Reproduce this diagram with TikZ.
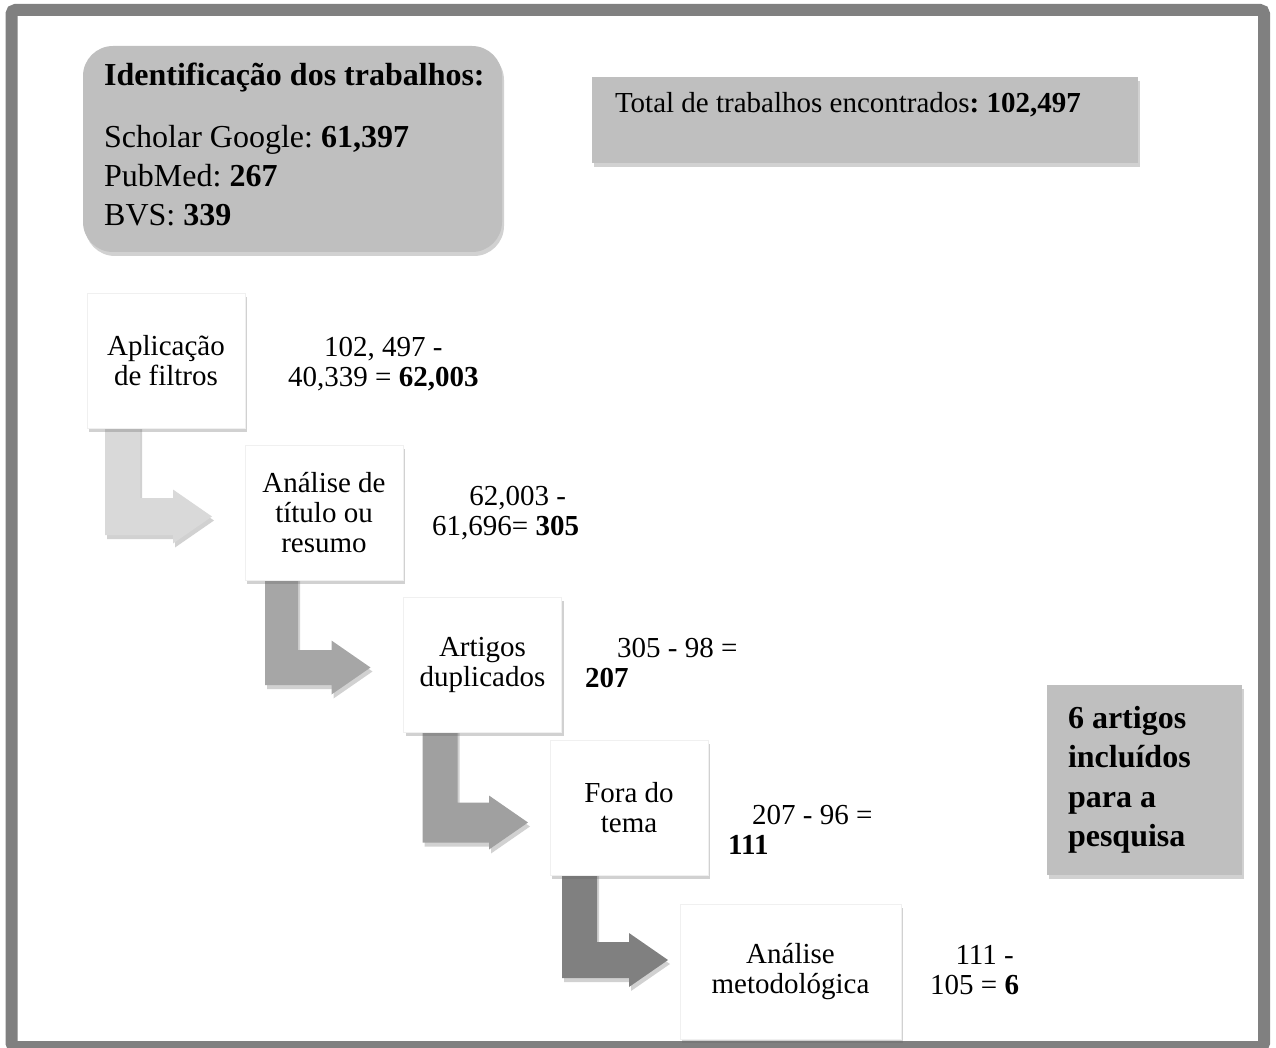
\documentclass[tikz,border=0pt]{standalone}
\usepackage{fontspec}
\setmainfont{Liberation Serif}
\frenchspacing
\usetikzlibrary{shadows,calc,backgrounds}
\definecolor{frame}{RGB}{128,128,128}
\definecolor{panel}{RGB}{191,191,191}
\definecolor{bendA}{RGB}{217,217,217}
\definecolor{bendB}{RGB}{166,166,166}
\definecolor{bendC}{RGB}{160,160,160}
\definecolor{bendD}{RGB}{128,128,128}
\newcommand{\comma}{,}
\tikzset{
  soft shadow/.style={drop shadow={shadow xshift=2pt,shadow yshift=-4pt,opacity=0.3,fill=black!60}},
  panel box/.style={fill=panel,inner sep=0pt,outer sep=0pt,soft shadow},
  stepbox/.style={draw=black!6,fill=white,inner sep=0pt,outer sep=0pt,
    minimum width=158pt,minimum height=135pt,align=center,
    font=\fontsize{29}{30}\selectfont,soft shadow},
  tally/.style={inner sep=0pt,anchor=west,font=\fontsize{29}{30}\selectfont},
  big/.style={font=\fontsize{32}{39}\selectfont},
}
\begin{document}
\begin{tikzpicture}[x=1pt,y=-1pt]
  \useasboundingbox (0,0) rectangle (1276,1048);
  \draw[frame,line width=12pt,rounded corners=4pt] (11.5,10) rectangle (1264,1047);
  % gray panels
  \node[panel box,rounded corners=30pt,minimum width=419pt,minimum height=206pt] (ident) at (292.5,149) {};
  \node[big,anchor=north west,align=left,inner sep=0pt] (identtxt) at ([xshift=21pt,yshift=-17pt]ident.north west)
    {\textbf{Identificação dos trabalhos:}\\[23pt]Scholar Google: \textbf{61,397}\\PubMed: \textbf{267}\\BVS: \textbf{339}};
  \node[panel box,minimum height=86pt,text width=500pt,inner xsep=23pt,align=flush left,
    font=\fontsize{29}{35}\selectfont] (total) at (865,120)
    {Total de trabalhos encontrados\textbf{: 102,497}\\\mbox{}};
  \node[panel box,minimum width=195pt,minimum height=190pt,text width=153pt,inner xsep=21pt,align=flush left,
    font=\fontsize{32}{39.5}\selectfont\bfseries] (incl) at (1144.5,780)
    {6 artigos\\incluídos\\para a\\pesquisa};
  % steps
  \foreach \t/\x/\y/\w [count=\i] in {
    Aplicação\\de filtros/166/360.5/158,
    Análise de\\título ou\\resumo/324/512.5/158,
    Artigos\\duplicados/482.5/664.5/158,
    Fora do\\tema/629/807.5/158,
    Análise\\metodológica/790.5/971.5/221}
  {
    \node[stepbox,minimum width=\w pt] (s\i) at (\x,\y) {\t};
  }
  % bent arrows between steps
  \begin{scope}[on background layer]
    \foreach \i/\c/\dx/\w/\h/\dy/\g in {1/bendA/18/35/18.5/4/33, 2/bendB/20/33/17.5/3/33,
        3/bendC/19/35/20/15/22, 4/bendD/12/35/18/-11.5/12}
    {
      \pgfmathtruncatemacro{\j}{\i+1}
      \fill[\c,soft shadow] let \p1=(s\i.south west), \p2=(s\j.west),
          \p3=({\x1+\dx pt},{\y2-(\dy pt)}), \p4=({\x2-\g pt},{\y2-(\dy pt)}) in
        (\x3,{\y1+6pt}) -- (\x3,{\y3-\h pt}) -- ({\x4-39pt},{\y3-\h pt}) -- ({\x4-39pt},{\y3-27pt})
        -- (\p4) -- ({\x4-39pt},{\y3+27pt}) -- ({\x4-39pt},{\y3+\h pt})
        -- ({\x3+\w pt},{\y3+\h pt}) -- ({\x3+\w pt},{\y1+6pt}) -- cycle;
    }
  \end{scope}
  % counts
  \foreach \n/\x/\y/\a [count=\i] in {
    102\comma{} 497 -\\40\comma339 = \textbf{62\comma003}/288/364/center,
    \hspace*{24pt}62\comma003 -\\61\comma696= \textbf{305}/432/513/center,
    \hspace*{32pt}305 - 98 =\\\textbf{207}/585/663/left,
    \hspace*{24pt}207 - 96 =\\\textbf{111}/728/830/left,
    \hspace*{20pt}111 -\\105 = \textbf{6}/930/970/center}
  {
    \node[tally,align=\a] (c\i) at (\x,\y) {\n};
  }
\end{tikzpicture}
\end{document}
